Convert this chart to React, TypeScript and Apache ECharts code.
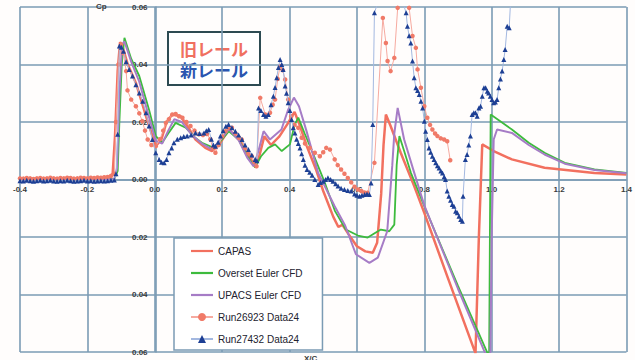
import React, { useEffect, useRef } from "react";
import * as echarts from "echarts";

// ---- data (x/c, Cp plotted upward) ----
const xTicks = [-0.4, -0.2, 0.0, 0.2, 0.4, 0.6, 0.8, 1.0, 1.2, 1.4];
const yTicks = [-0.06, -0.04, -0.02, 0.0, 0.02, 0.04, 0.06];

const seriesNames = ["CAPAS", "Overset Euler CFD", "UPACS Euler CFD", "Run26923 Data24", "Run27432 Data24"];

const capas: number[][] = [
  [-0.4, 0.0], [-0.3, 0.0003], [-0.2, 0.0002], [-0.14, 0.0004], [-0.125, 0.002], [-0.118, 0.015],
  [-0.11, 0.038], [-0.103, 0.0478], [-0.095, 0.046], [-0.08, 0.04], [-0.056, 0.0336], [-0.026, 0.022],
  [0.003, 0.0116], [0.02, 0.014], [0.035, 0.02], [0.052, 0.0226], [0.077, 0.022], [0.1, 0.018],
  [0.121, 0.0139], [0.15, 0.011], [0.17, 0.0099], [0.19, 0.012], [0.22, 0.0174], [0.24, 0.015],
  [0.258, 0.0128], [0.28, 0.008], [0.298, 0.0046], [0.31, 0.008], [0.325, 0.015], [0.345, 0.012],
  [0.37, 0.015], [0.395, 0.0195], [0.415, 0.0235], [0.43, 0.019], [0.45, 0.012], [0.48, 0.003],
  [0.5, -0.004], [0.53, -0.013], [0.545, -0.0165], [0.557, -0.0158], [0.575, -0.019], [0.6, -0.0232],
  [0.625, -0.025], [0.647, -0.0255], [0.66, -0.022], [0.672, -0.005], [0.679, 0.012], [0.686, 0.0226],
  [0.7, 0.0186], [0.73, 0.0093], [0.77, -0.0023], [0.8, -0.0116], [0.868, -0.0336], [0.952, -0.0605],
  [0.962, -0.02], [0.972, 0.0122], [1.006, 0.0099], [1.06, 0.007], [1.157, 0.0041], [1.305, 0.0023],
  [1.4, 0.0017],
];

const overset: number[][] = [
  [-0.4, 0.0], [-0.2, 0.0], [-0.12, 0.0002], [-0.11, 0.003], [-0.105, 0.02], [-0.098, 0.04],
  [-0.09, 0.0493], [-0.07, 0.042], [-0.046, 0.036], [-0.017, 0.0243], [0.003, 0.0151], [0.022, 0.0128],
  [0.04, 0.016], [0.062, 0.0197], [0.092, 0.018], [0.12, 0.0145], [0.14, 0.0128], [0.175, 0.011],
  [0.2, 0.014], [0.22, 0.0168], [0.249, 0.0139], [0.275, 0.008], [0.298, 0.0042], [0.315, 0.008],
  [0.337, 0.011], [0.357, 0.0122], [0.377, 0.0099], [0.401, 0.0122], [0.415, 0.019], [0.426, 0.0215],
  [0.445, 0.016], [0.465, 0.0104], [0.505, -0.0012], [0.535, -0.011], [0.567, -0.0174], [0.603, -0.0195],
  [0.632, -0.0202], [0.655, -0.0185], [0.671, -0.0174], [0.696, -0.018], [0.711, -0.0157], [0.718, 0.005],
  [0.726, 0.0151], [0.74, 0.01], [0.76, 0.0024], [0.8, -0.0093], [0.9, -0.037], [0.988, -0.0605],
  [0.992, -0.07], [0.997, 0.0226], [1.06, 0.0174], [1.11, 0.0128], [1.157, 0.0093], [1.217, 0.0058],
  [1.305, 0.0035], [1.4, 0.0023],
];

const upacs: number[][] = [
  [-0.4, 0.0], [-0.2, 0.0], [-0.12, 0.0002], [-0.112, 0.004], [-0.105, 0.03], [-0.097, 0.047],
  [-0.09, 0.048], [-0.07, 0.041], [-0.046, 0.034], [-0.02, 0.023], [0.003, 0.0135], [0.022, 0.0125],
  [0.04, 0.017], [0.058, 0.021], [0.08, 0.02], [0.11, 0.0155], [0.14, 0.0125], [0.17, 0.0105],
  [0.2, 0.0145], [0.22, 0.0175], [0.25, 0.0135], [0.275, 0.0075], [0.293, 0.0046], [0.308, 0.01],
  [0.323, 0.0168], [0.342, 0.0139], [0.376, 0.0174], [0.395, 0.024], [0.413, 0.0285], [0.428, 0.0255],
  [0.45, 0.017], [0.485, 0.0023], [0.534, -0.0093], [0.565, -0.016], [0.597, -0.026], [0.637, -0.029],
  [0.662, -0.0272], [0.69, -0.018], [0.705, 0.005], [0.711, 0.016], [0.721, 0.0249], [0.74, 0.014],
  [0.77, 0.0024], [0.8, -0.009], [0.9, -0.038], [0.99, -0.063], [0.995, -0.07], [1.0, -0.02],
  [1.006, 0.0139], [1.016, 0.0174], [1.06, 0.0162], [1.11, 0.012], [1.157, 0.0087], [1.217, 0.0055],
  [1.305, 0.0033], [1.4, 0.0022],
];

const run26923: number[][] = [
  [-0.4, 0.0004], [-0.39, 0.0003], [-0.38, 0.0005], [-0.37, 0.0004], [-0.36, 0.0002], [-0.35, 0.0004],
  [-0.34, 0.0005], [-0.33, 0.0003], [-0.32, 0.0004], [-0.31, 0.0006], [-0.3, 0.0004], [-0.29, 0.0003],
  [-0.28, 0.0005], [-0.27, 0.0004], [-0.26, 0.0006], [-0.25, 0.0005], [-0.24, 0.0003], [-0.23, 0.0004],
  [-0.22, 0.0006], [-0.21, 0.0005], [-0.2, 0.0004], [-0.19, 0.0006], [-0.18, 0.0005], [-0.17, 0.0007],
  [-0.16, 0.0006], [-0.15, 0.0008], [-0.14, 0.0009], [-0.13, 0.0012],
  [-0.12, 0.002], [-0.115, 0.02], [-0.108, 0.04], [-0.1, 0.047], [-0.093, 0.044], [-0.085, 0.0377],
  [-0.081, 0.031], [-0.07, 0.0278], [-0.056, 0.0255], [-0.046, 0.023], [-0.037, 0.0203], [-0.029, 0.017],
  [-0.021, 0.0139], [-0.01, 0.012], [0.003, 0.0116], [0.015, 0.014], [0.025, 0.017], [0.033, 0.0197],
  [0.042, 0.021], [0.052, 0.0226], [0.062, 0.0228], [0.072, 0.022], [0.082, 0.0215], [0.094, 0.02],
  [0.106, 0.0186], [0.118, 0.017], [0.131, 0.0157], [0.143, 0.0155], [0.155, 0.0158], [0.165, 0.014],
  [0.172, 0.011], [0.18, 0.0093], [0.19, 0.012], [0.2, 0.015], [0.21, 0.0168], [0.219, 0.018],
  [0.229, 0.018], [0.24, 0.016], [0.25, 0.0145], [0.258, 0.0139], [0.268, 0.011], [0.278, 0.009],
  [0.288, 0.0081], [0.296, 0.006], [0.302, 0.0046], [0.313, 0.0284], [0.328, 0.0226], [0.342, 0.0232],
  [0.35, 0.026], [0.357, 0.0278], [0.365, 0.035], [0.372, 0.0394], [0.38, 0.038], [0.387, 0.0348],
  [0.396, 0.0278], [0.405, 0.022], [0.415, 0.019], [0.426, 0.018], [0.436, 0.0145], [0.446, 0.0125],
  [0.46, 0.011], [0.475, 0.0093], [0.49, 0.0081], [0.5, 0.0095], [0.509, 0.011], [0.52, 0.0104],
  [0.534, 0.007], [0.543, 0.005], [0.553, 0.0035], [0.563, 0.002], [0.573, 0.0005], [0.583, -0.001],
  [0.593, -0.0025], [0.603, -0.0035], [0.613, -0.004], [0.622, -0.0045], [0.632, -0.0046], [0.652, 0.0058],
  [0.677, 0.0562], [0.686, 0.0475], [0.691, 0.0412], [0.7, 0.0377], [0.711, 0.0423], [0.721, 0.0597],
  [0.738, 0.07], [0.755, 0.0597], [0.765, 0.0499], [0.775, 0.0458], [0.78, 0.0383], [0.79, 0.0319],
  [0.8, 0.0255], [0.809, 0.0215], [0.817, 0.019], [0.824, 0.0174], [0.832, 0.016], [0.839, 0.0151],
  [0.849, 0.0143], [0.859, 0.0139], [0.868, 0.0133], [0.877, 0.0067],
];

const run27432: number[][] = [
  [-0.4, -0.0004], [-0.39, -0.0005], [-0.38, -0.0003], [-0.37, -0.0004], [-0.36, -0.0006], [-0.35, -0.0004],
  [-0.34, -0.0003], [-0.33, -0.0005], [-0.32, -0.0004], [-0.31, -0.0003], [-0.3, -0.0005], [-0.29, -0.0006],
  [-0.28, -0.0004], [-0.27, -0.0005], [-0.26, -0.0003], [-0.25, -0.0004], [-0.24, -0.0006], [-0.23, -0.0005],
  [-0.22, -0.0004], [-0.21, -0.0003], [-0.2, -0.0005], [-0.19, -0.0004], [-0.18, -0.0006], [-0.17, -0.0005],
  [-0.16, -0.0004], [-0.15, -0.0005], [-0.14, -0.0004], [-0.13, -0.0003], [-0.12, -0.0002],
  [-0.115, 0.002], [-0.11, 0.0157], [-0.105, 0.0464], [-0.099, 0.046], [-0.093, 0.0446], [-0.085, 0.041],
  [-0.076, 0.0383], [-0.066, 0.036], [-0.056, 0.033], [-0.046, 0.0301], [-0.036, 0.0272], [-0.026, 0.0232],
  [-0.017, 0.0186], [-0.007, 0.0139], [0.003, 0.0093], [0.013, 0.007], [0.02, 0.006], [0.028, 0.0058],
  [0.035, 0.007], [0.042, 0.0093], [0.05, 0.011], [0.057, 0.0128], [0.067, 0.014], [0.077, 0.0145],
  [0.086, 0.015], [0.096, 0.0151], [0.108, 0.0155], [0.121, 0.0162], [0.133, 0.016], [0.146, 0.0162],
  [0.153, 0.017], [0.16, 0.0174], [0.168, 0.014], [0.174, 0.012], [0.18, 0.0116], [0.188, 0.013],
  [0.195, 0.0151], [0.203, 0.017], [0.211, 0.0185], [0.219, 0.0191], [0.229, 0.018], [0.239, 0.0168],
  [0.249, 0.0155], [0.259, 0.0139], [0.268, 0.012], [0.278, 0.0104], [0.288, 0.0085], [0.298, 0.007],
  [0.303, 0.0065], [0.308, 0.0249], [0.315, 0.024], [0.323, 0.0226], [0.33, 0.022], [0.337, 0.0226],
  [0.345, 0.026], [0.352, 0.029], [0.357, 0.032], [0.362, 0.0354], [0.367, 0.039], [0.372, 0.0417],
  [0.377, 0.04], [0.381, 0.0383], [0.387, 0.0325], [0.391, 0.03], [0.396, 0.0267], [0.401, 0.024],
  [0.406, 0.0209], [0.411, 0.018], [0.416, 0.0162], [0.421, 0.014], [0.426, 0.0125], [0.431, 0.011],
  [0.436, 0.009], [0.441, 0.007], [0.446, 0.005], [0.452, 0.0035], [0.46, 0.0025], [0.467, 0.0015],
  [0.475, 0.0], [0.485, -0.0017], [0.492, -0.001], [0.5, -0.0006], [0.507, 0.0], [0.514, 0.0006],
  [0.522, 0.0], [0.529, -0.0006], [0.537, -0.0015], [0.544, -0.0023], [0.553, -0.003], [0.563, -0.0035],
  [0.573, -0.0038], [0.583, -0.004], [0.593, -0.005], [0.6, -0.0055], [0.608, -0.0058], [0.615, -0.0055],
  [0.623, -0.0052], [0.63, -0.005], [0.637, -0.0052], [0.642, -0.0012], [0.647, 0.0191], [0.652, 0.058],
  [0.7, 0.075], [0.746, 0.058], [0.75, 0.0533], [0.755, 0.05], [0.76, 0.0475], [0.765, 0.0412],
  [0.77, 0.0354], [0.775, 0.0319], [0.78, 0.031], [0.785, 0.0296], [0.79, 0.0272], [0.795, 0.0249],
  [0.8, 0.0203], [0.804, 0.0168], [0.809, 0.0139], [0.814, 0.011], [0.819, 0.0095], [0.824, 0.0081],
  [0.829, 0.007], [0.834, 0.0058], [0.839, 0.0048], [0.844, 0.004], [0.849, 0.003], [0.854, 0.0023],
  [0.859, 0.001], [0.863, 0.0], [0.868, -0.004], [0.873, -0.0058], [0.878, -0.0072], [0.883, -0.0087],
  [0.888, -0.0093], [0.893, -0.011], [0.898, -0.0116], [0.903, -0.0128], [0.908, -0.0139], [0.913, -0.0145],
  [0.915, -0.0058], [0.922, 0.007], [0.927, 0.0087], [0.932, 0.012], [0.937, 0.0151], [0.942, 0.0226],
  [0.947, 0.0232], [0.952, 0.0232], [0.957, 0.022], [0.962, 0.0249], [0.967, 0.0255], [0.972, 0.029],
  [0.977, 0.0319], [0.982, 0.0319], [0.987, 0.0307], [0.991, 0.0301], [0.996, 0.029], [1.001, 0.0278],
  [1.006, 0.0267], [1.011, 0.027], [1.016, 0.0278], [1.021, 0.0319], [1.026, 0.035], [1.031, 0.0377],
  [1.036, 0.0417], [1.04, 0.0452], [1.046, 0.0533], [1.052, 0.0528], [1.058, 0.066],
];

const annotationLines = ["旧レール", "新レール"];

const GRID_COLOR = "#7b9bb4";
const GRID = { left: 20, top: 7, width: 610, height: 345 };
const LINE_ICON = "path://M0,0L24,0L24,2.4L0,2.4Z";

export default function App() {
  const ref = useRef<HTMLDivElement>(null);
  useEffect(() => {
    if (!ref.current) return;
    const chart = echarts.init(ref.current, undefined, { renderer: "svg" });
    // place the axes through the origin (x = 0, y = 0) like the reference
    const xMin = xTicks[0];
    const xMax = xTicks[xTicks.length - 1];
    const yMin = yTicks[0];
    const yMax = yTicks[yTicks.length - 1];
    const yAxisOffset = -((0 - xMin) / (xMax - xMin)) * GRID.width;
    const xAxisOffset = -((0 - yMin) / (yMax - yMin)) * GRID.height;

    const lineSeries = (name: string, data: number[][], color: string, width: number) => ({
      name,
      type: "line",
      data,
      symbol: "none",
      clip: true,
      lineStyle: { color, width },
      itemStyle: { color },
      z: 2,
    });
    chart.setOption({
      animation: false,
      backgroundColor: "#fffdfc",
      textStyle: { fontFamily: "Liberation Sans, Arial, sans-serif" },
      grid: { ...GRID, containLabel: false },
      xAxis: {
        type: "value",
        min: xMin,
        max: xMax,
        interval: 0.2,
        position: "bottom",
        offset: xAxisOffset,
        axisLine: { show: true, onZero: false, lineStyle: { color: GRID_COLOR, width: 1.6 } },
        axisTick: { show: false },
        axisLabel: {
          formatter: (v: number) => v.toFixed(1),
          fontSize: 8,
          fontWeight: "bold",
          color: "#3a3a3a",
          margin: 6,
          showMinLabel: true,
          showMaxLabel: true,
        },
        splitLine: { show: true, lineStyle: { color: GRID_COLOR, width: 1.6 } },
      },
      yAxis: {
        type: "value",
        min: yMin,
        max: yMax,
        interval: 0.02,
        position: "left",
        offset: yAxisOffset,
        axisLine: { show: true, onZero: false, lineStyle: { color: GRID_COLOR, width: 1.6 } },
        axisTick: { show: false },
        axisLabel: {
          formatter: (v: number) => Math.abs(v).toFixed(2),
          fontSize: 8,
          fontWeight: "bold",
          color: "#3a3a3a",
          margin: 8,
          showMinLabel: true,
          showMaxLabel: true,
        },
        splitLine: { show: true, lineStyle: { color: GRID_COLOR, width: 1.6 } },
      },
      legend: {
        orient: "vertical",
        left: 174,
        top: 238,
        padding: [8, 20, 6, 16],
        itemWidth: 22,
        itemHeight: 10,
        itemGap: 12,
        selectedMode: false,
        backgroundColor: "#ffffff",
        borderColor: GRID_COLOR,
        borderWidth: 1.5,
        textStyle: { fontSize: 10, color: "#22222e" },
        data: [
          { name: seriesNames[0], icon: LINE_ICON },
          { name: seriesNames[1], icon: LINE_ICON },
          { name: seriesNames[2], icon: LINE_ICON },
          { name: seriesNames[3] },
          { name: seriesNames[4] },
        ],
      },
      graphic: [
        {
          type: "group",
          z: 10,
          children: [
            {
              type: "rect",
              shape: { x: 168, y: 32, width: 92, height: 53 },
              style: { fill: "#ffffff", stroke: "#2d4b52", lineWidth: 2 },
            },
            {
              type: "text",
              x: 214,
              y: 59,
              style: {
                text: "{a|" + annotationLines[0] + "}\n{b|" + annotationLines[1] + "}",
                textAlign: "center",
                textVerticalAlign: "middle",
                rich: {
                  a: {
                    fill: "#f07060",
                    fontSize: 17,
                    fontWeight: "bold",
                    fontFamily: "Noto Sans CJK JP",
                    lineHeight: 21,
                  },
                  b: {
                    fill: "#2a55b0",
                    fontSize: 17,
                    fontWeight: "bold",
                    fontFamily: "Noto Sans CJK JP",
                    lineHeight: 21,
                  },
                },
              },
            },
          ],
        },
        {
          type: "text",
          x: 96,
          y: 2,
          z: 10,
          style: { text: "Cp", fill: "#3a3a3a", font: "bold 8px 'Liberation Sans'" },
        },
        {
          type: "text",
          x: 304,
          y: 354,
          z: 10,
          style: { text: "X/C", fill: "#3a3a3a", font: "bold 8px 'Liberation Sans'" },
        },
      ],
      series: [
        lineSeries(seriesNames[0], capas, "#f2705f", 2.5),
        lineSeries(seriesNames[1], overset, "#3dbb3d", 1.8),
        lineSeries(seriesNames[2], upacs, "#a67cc6", 2),
        {
          name: seriesNames[3],
          type: "line",
          data: run26923,
          symbol: "circle",
          symbolSize: 4.5,
          showSymbol: true,
          clip: true,
          lineStyle: { color: "#f6aaa0", width: 1 },
          itemStyle: { color: "#f07a68" },
          z: 3,
        },
        {
          name: seriesNames[4],
          type: "line",
          data: run27432,
          symbol: "triangle",
          symbolSize: 5,
          showSymbol: true,
          clip: true,
          lineStyle: { color: "#a3b8e0", width: 1 },
          itemStyle: { color: "#1d3f94" },
          z: 4,
        },
      ],
    });
    return () => chart.dispose();
  }, []);
  return (
    <div
      ref={ref}
      style={{ position: "absolute", left: 0, top: 0, width: 635, height: 360 }}
    />
  );
}
